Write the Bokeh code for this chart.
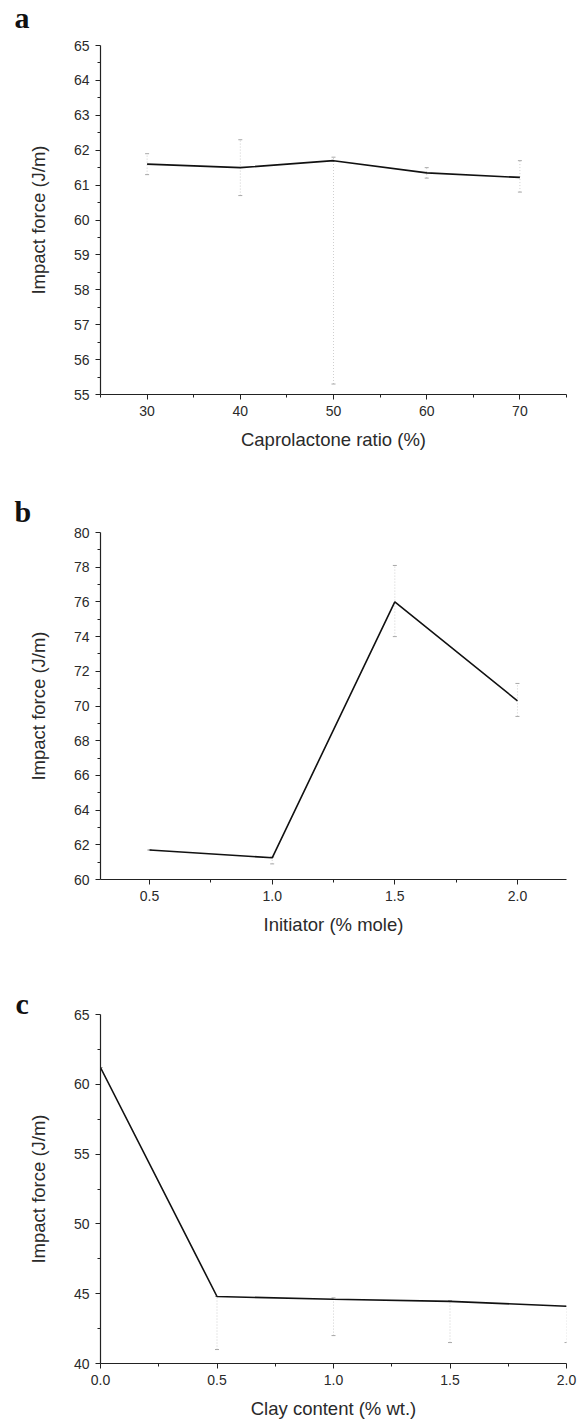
import numpy as np
from bokeh.plotting import figure
from bokeh.layouts import column
from bokeh.models import (FixedTicker, Whisker, ColumnDataSource, Label,
                          PrintfTickFormatter, Range1d, TeeHead)
from bokeh.embed import file_html
from bokeh.resources import INLINE

# ---- data ----
cap_ratio = [30, 40, 50, 60, 70]
impact_a = [61.6, 61.5, 61.7, 61.35, 61.22]
err_a_lo = [61.3, 60.7, 55.3, 61.2, 60.8]
err_a_hi = [61.9, 62.3, 61.8, 61.5, 61.7]

initiator = [0.5, 1.0, 1.5, 2.0]
impact_b = [61.7, 61.25, 76.0, 70.3]
err_b_lo = [61.7, 60.9, 74.0, 69.4]
err_b_hi = [61.7, 61.3, 78.1, 71.3]

clay = [0.0, 0.5, 1.0, 1.5, 2.0]
impact_c = [61.2, 44.8, 44.6, 44.45, 44.1]
err_c_lo = [61.2, 41.0, 42.0, 41.5, 41.5]
err_c_hi = [61.2, 44.8, 44.7, 44.5, 44.1]

SANS = "Liberation Sans"
SERIF = "Liberation Serif"
TXT = "#2a2a2a"


def panel(x, y, lo, hi, xr, yr, xt, xm, yt, ym, xfmt, xlabel, letter,
          h, b_top, b_bot, b_left, b_right, lpos):
    p = figure(width=577, height=h, output_backend="svg", toolbar_location=None,
               x_range=Range1d(*xr), y_range=Range1d(*yr),
               min_border_top=b_top, min_border_bottom=b_bot,
               min_border_left=b_left, min_border_right=b_right)
    p.outline_line_color = None
    p.grid.visible = False
    p.background_fill_color = "white"
    p.border_fill_color = "white"

    src = ColumnDataSource(dict(x=x, y=y, lo=lo, hi=hi))
    w = Whisker(base="x", lower="lo", upper="hi", source=src,
                line_color="#cfcfcf", line_width=1, line_dash="1 2",
                upper_head=TeeHead(size=4, line_color="#a8a8a8", line_width=1),
                lower_head=TeeHead(size=4, line_color="#a8a8a8", line_width=1))
    p.add_layout(w)
    p.line("x", "y", source=src, line_color="#111111", line_width=1.6)

    p.xaxis.ticker = FixedTicker(ticks=xt, minor_ticks=xm)
    p.yaxis.ticker = FixedTicker(ticks=yt, minor_ticks=ym)
    if xfmt:
        p.xaxis.formatter = PrintfTickFormatter(format=xfmt)
    p.xaxis.axis_label = xlabel
    p.yaxis.axis_label = "Impact force (J/m)"
    for ax in (p.xaxis[0], p.yaxis[0]):
        ax.axis_line_color = "#222222"
        ax.axis_line_width = 1.2
        ax.major_tick_line_color = "#222222"
        ax.minor_tick_line_color = "#222222"
        ax.major_tick_out = 5
        ax.major_tick_in = 0
        ax.minor_tick_out = 3
        ax.minor_tick_in = 0
        ax.major_label_text_font = SANS
        ax.major_label_text_font_size = "14px"
        ax.major_label_text_color = TXT
        ax.axis_label_text_font = SANS
        ax.axis_label_text_font_style = "normal"
        ax.axis_label_text_color = TXT
        ax.axis_label_text_font_size = "18.5px"
    p.xaxis.major_label_standoff = 6
    p.xaxis.axis_label_standoff = 10
    p.yaxis.major_label_standoff = 6
    p.yaxis.axis_label_standoff = 22

    p.add_layout(Label(x=lpos[0], y=lpos[1], x_units="screen", y_units="screen",
                       text=letter, text_font=SERIF, text_font_style="bold",
                       text_font_size="30px", text_color="#111111",
                       text_align="left", text_baseline="alphabetic"), "above")
    return p


pa = panel(cap_ratio, impact_a, err_a_lo, err_a_hi, (25, 75), (55, 65),
           [30, 40, 50, 60, 70], [25, 35, 45, 55, 65, 75],
           list(range(55, 66)), list(np.arange(55.5, 65, 1.0)), None,
           "Caprolactone ratio (%)", "a", 480, 45, 86, 100, 7, (-86, 28))

pb = panel(initiator, impact_b, err_b_lo, err_b_hi, (0.3, 2.2), (60, 80),
           [0.5, 1.0, 1.5, 2.0], [0.75, 1.25, 1.75],
           list(range(60, 81, 2)), list(range(61, 80, 2)), "%.1f",
           "Initiator (% mole)", "b", 480, 52, 81, 99, 10, (-86, 21))

pc = panel(clay, impact_c, err_c_lo, err_c_hi, (0.0, 2.0), (40, 65),
           [0.0, 0.5, 1.0, 1.5, 2.0], [0.25, 0.75, 1.25, 1.75],
           list(range(40, 66, 5)), list(np.arange(42.5, 65, 5.0)), "%.1f",
           "Clay content (% wt.)", "c", 462, 54, 59, 97, 11, (-85, 11))

layout = column(pa, pb, pc, spacing=0)
open("out.html", "w").write(file_html(layout, INLINE))
